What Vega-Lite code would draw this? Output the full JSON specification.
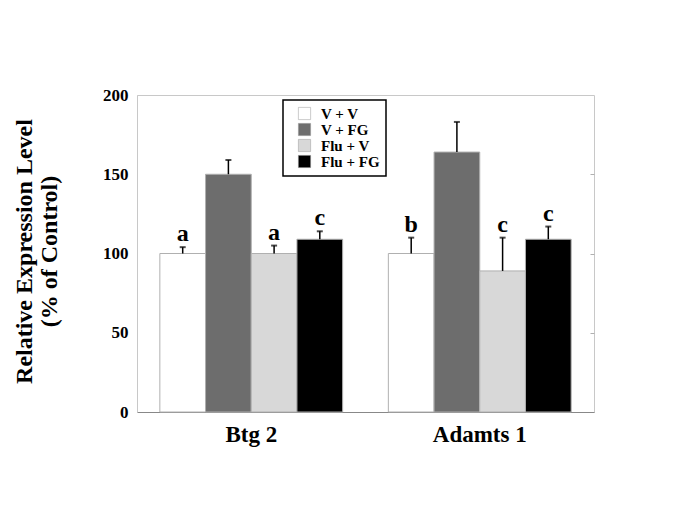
{
  "$schema": "https://vega.github.io/schema/vega-lite/v6.json",
  "autosize": {"type": "none"},
  "padding": {"left": 137, "top": 95, "right": 91, "bottom": 101},
  "width": 457,
  "height": 317,
  "background": "white",
  "config": {
    "font": "Liberation Serif",
    "view": {"stroke": "#c8c8c8", "strokeWidth": 1}
  },
  "data": {
    "values": [
      {"gene": "Btg 2", "group": "V + V", "value": 100, "err": 104, "letter": "a"},
      {"gene": "Btg 2", "group": "V + FG", "value": 150, "err": 159, "letter": ""},
      {"gene": "Btg 2", "group": "Flu + V", "value": 100, "err": 105, "letter": "a"},
      {"gene": "Btg 2", "group": "Flu + FG", "value": 109, "err": 114, "letter": "c"},
      {"gene": "Adamts 1", "group": "V + V", "value": 100, "err": 110, "letter": "b"},
      {"gene": "Adamts 1", "group": "V + FG", "value": 164, "err": 183, "letter": ""},
      {"gene": "Adamts 1", "group": "Flu + V", "value": 89, "err": 110, "letter": "c"},
      {"gene": "Adamts 1", "group": "Flu + FG", "value": 109, "err": 117, "letter": "c"}
    ]
  },
  "encoding": {
    "x": {
      "field": "gene", "type": "nominal", "sort": ["Btg 2", "Adamts 1"],
      "scale": {"paddingInner": 0.2, "paddingOuter": 0.1},
      "axis": {
        "title": null, "labelAngle": 0, "labelFont": "Liberation Serif", "labelFontWeight": "bold",
        "labelFontSize": 23, "labelColor": "black", "labelPadding": 11, "ticks": false,
        "domainColor": "#888", "domainWidth": 1
      }
    },
    "xOffset": {"field": "group", "type": "nominal", "sort": ["V + V", "V + FG", "Flu + V", "Flu + FG"]}
  },
  "layer": [
    {
      "mark": {"type": "bar", "stroke": "#b0b0b0", "strokeWidth": 1},
      "encoding": {
        "y": {
          "field": "value", "type": "quantitative",
          "scale": {"domain": [0, 200], "nice": false},
          "axis": {
            "orient": "left", "values": [0, 50, 100, 150, 200], "grid": false,
            "title": ["Relative Expression Level", "(% of Control)"],
            "titleFont": "Liberation Serif", "titleFontWeight": "bold", "titleFontSize": 24,
            "titleLineHeight": 25, "titleColor": "black", "titleAngle": -90,
            "titleBaseline": "top", "titleAlign": "center", "titleX": -125, "titleY": 156,
            "labelFont": "Liberation Serif", "labelFontWeight": "bold", "labelFontSize": 17,
            "labelColor": "black", "labelPadding": 9, "ticks": false,
            "domainColor": "#c8c8c8"
          }
        },
        "fill": {
          "field": "group", "type": "nominal",
          "sort": ["V + V", "V + FG", "Flu + V", "Flu + FG"],
          "scale": {"domain": ["V + V", "V + FG", "Flu + V", "Flu + FG"], "range": ["#ffffff", "#6d6d6d", "#d8d8d8", "#000000"]},
          "legend": {
            "title": null, "orient": "none", "legendX": 146, "legendY": 5,
            "direction": "vertical", "symbolType": "square", "symbolSize": 150,
            "symbolStrokeColor": "#999", "symbolStrokeWidth": 0.5, "symbolOffset": 8,
            "labelFont": "Liberation Serif", "labelFontWeight": "bold", "labelFontSize": 15,
            "labelColor": "black", "labelOffset": 9, "rowPadding": 0,
            "padding": 6, "strokeColor": "black", "fillColor": "white",
            "encode": {"legend": {"update": {"strokeWidth": {"value": 1.5}}}}
          }
        }
      }
    },
    {
      "mark": {"type": "rule", "color": "black", "strokeWidth": 1.5},
      "encoding": {
        "y": {"field": "value", "type": "quantitative", "axis": null},
        "y2": {"field": "err"}
      }
    },
    {
      "mark": {"type": "tick", "color": "black", "size": 6, "thickness": 2},
      "encoding": {
        "y": {"field": "err", "type": "quantitative", "axis": null}
      }
    },
    {
      "mark": {"type": "text", "baseline": "alphabetic", "dy": -6, "font": "Liberation Serif", "fontWeight": "bold", "fontSize": 24, "color": "black"},
      "encoding": {
        "y": {"field": "err", "type": "quantitative", "axis": null},
        "text": {"field": "letter"}
      }
    },
    {
      "mark": {"type": "rule", "opacity": 0},
      "encoding": {
        "y": {
          "field": "value", "type": "quantitative",
          "axis": {
            "orient": "right", "values": [50, 100, 150], "labels": false, "title": null,
            "grid": false, "tickSize": 4, "offset": -4, "tickColor": "#b0b0b0", "domain": false
          }
        }
      }
    }
  ],
  "resolve": {"axis": {"y": "independent"}}
}
